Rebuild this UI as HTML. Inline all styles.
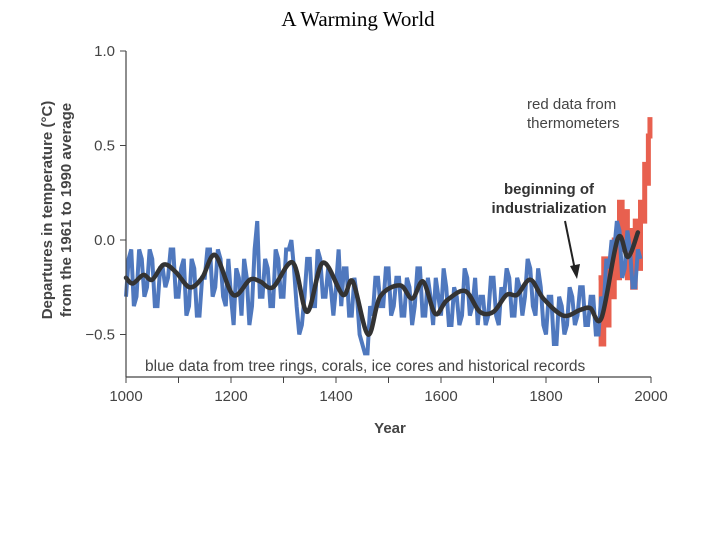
<!DOCTYPE html>
<html><head><meta charset="utf-8"><style>
body{margin:0;background:#fff;}
svg text{font-family:"Liberation Sans",sans-serif;}
</style></head><body>
<svg id="chart" width="720" height="540" viewBox="0 0 720 540" xmlns="http://www.w3.org/2000/svg">
<text x="358" y="26" text-anchor="middle" style="font-family:'Liberation Serif',serif;font-size:21px" fill="#000">A Warming World</text>
<g id="marks"></g>
<g id="axes"></g>
<text x="527" y="109" font-size="15" fill="#444">red data from</text>
<text x="527" y="128" font-size="15" fill="#444">thermometers</text>
<text x="549" y="194" font-size="15" font-weight="bold" fill="#333" text-anchor="middle">beginning of</text>
<text x="549" y="213" font-size="15" font-weight="bold" fill="#333" text-anchor="middle">industrialization</text>
<line x1="565" y1="221" x2="575" y2="270" stroke="#222" stroke-width="2"/>
<polygon points="570,266 580,264 577,279" fill="#222"/>
<text x="145" y="371" font-size="15.5" fill="#444">blue data from tree rings, corals, ice cores and historical records</text>
<text transform="translate(52,210) rotate(-90)" text-anchor="middle" font-size="15" font-weight="bold" fill="#444">Departures in temperature (°C)</text>
<text transform="translate(71,210) rotate(-90)" text-anchor="middle" font-size="15" font-weight="bold" fill="#444">from the 1961 to 1990 average</text>
<text x="390" y="433" text-anchor="middle" font-size="15" font-weight="bold" fill="#444">Year</text>
</svg>
<script>
const blueStart = 1000, blueStep = 5;
const blueValues = [
-0.3,-0.1,-0.05,-0.35,-0.3,-0.05,-0.1,-0.3,-0.25,-0.05,-0.1,-0.35,-0.35,-0.15,-0.15,-0.25,-0.2,-0.05,-0.05,-0.3,
-0.3,-0.15,-0.1,-0.4,-0.35,-0.1,-0.15,-0.4,-0.4,-0.2,-0.2,-0.05,-0.05,-0.3,-0.25,-0.05,-0.1,-0.3,-0.35,-0.1,
-0.3,-0.45,-0.15,-0.2,-0.4,-0.1,-0.2,-0.45,-0.35,-0.05,0.1,-0.3,-0.3,-0.1,-0.15,-0.35,-0.35,-0.05,-0.1,-0.3,
-0.3,-0.05,-0.05,0.0,-0.15,-0.35,-0.5,-0.45,-0.3,-0.1,-0.1,-0.35,-0.35,-0.05,-0.1,-0.3,-0.3,-0.15,-0.25,-0.4,
-0.25,-0.05,-0.35,-0.15,-0.15,-0.4,-0.4,-0.2,-0.3,-0.5,-0.55,-0.6,-0.6,-0.35,-0.4,-0.2,-0.2,-0.35,-0.35,-0.15,
-0.15,-0.4,-0.35,-0.2,-0.2,-0.4,-0.4,-0.2,-0.25,-0.45,-0.35,-0.15,-0.15,-0.4,-0.4,-0.2,-0.3,-0.45,-0.2,-0.3,
-0.4,-0.15,-0.25,-0.45,-0.45,-0.25,-0.3,-0.45,-0.4,-0.15,-0.2,-0.4,-0.35,-0.2,-0.45,-0.3,-0.3,-0.45,-0.4,-0.2,
-0.2,-0.4,-0.45,-0.25,-0.3,-0.15,-0.2,-0.4,-0.4,-0.2,-0.25,-0.4,-0.3,-0.1,-0.15,-0.35,-0.4,-0.15,-0.25,-0.45,
-0.5,-0.3,-0.3,-0.55,-0.55,-0.3,-0.35,-0.5,-0.45,-0.25,-0.3,-0.45,-0.4,-0.25,-0.25,-0.45,-0.45,-0.3,-0.3,-0.5,
-0.5,-0.3,-0.35,-0.1,-0.15,0.0,-0.05,0.1,0.05,-0.2,-0.15,0.05,-0.05,-0.25,-0.25,-0.05,-0.1];
const redYears = [1900,1905,1910,1915,1920,1925,1930,1935,1940,1945,1950,1955,1960,1965,1970,1975,1980,1985,1988,1992,1995,1998];
const redValues = [-0.2,-0.55,-0.1,-0.45,-0.15,-0.3,0.0,-0.2,0.2,-0.05,0.15,-0.2,0.05,-0.25,0.1,-0.15,0.2,0.1,0.4,0.3,0.55,0.65];
const smoothYears = [1000,1013,1033,1050,1072,1095,1121,1145,1170,1204,1236,1256,1280,1318,1345,1375,1413,1432,1461,1484,1522,1545,1566,1589,1611,1646,1674,1700,1725,1745,1770,1795,1833,1865,1884,1906,1937,1956,1975];
const smoothValues = [-0.2,-0.23,-0.185,-0.21,-0.13,-0.17,-0.25,-0.2,-0.08,-0.29,-0.21,-0.22,-0.25,-0.12,-0.38,-0.12,-0.29,-0.22,-0.5,-0.3,-0.24,-0.31,-0.22,-0.39,-0.32,-0.27,-0.38,-0.38,-0.29,-0.29,-0.21,-0.31,-0.4,-0.37,-0.36,-0.41,0.01,-0.09,0.04];
const xTicks = [1000,1200,1400,1600,1800,2000];
const yTicks = [1.0,0.5,0.0,-0.5];

const NS='http://www.w3.org/2000/svg';
const x = yr => 126 + (yr-1000)*0.525;
const y = v => 240 - v*189;
const marks=document.getElementById('marks'), axes=document.getElementById('axes');
function mk(tag,parent){const e=document.createElementNS(NS,tag);parent.appendChild(e);return e;}

// red series (stepped)
let rp=[];
redYears.forEach((yr,i)=>{const nx=i<redYears.length-1?redYears[i+1]:yr;rp.push(x(yr)+','+y(redValues[i]));rp.push(x(nx)+','+y(redValues[i]));});
const red=mk('polyline',marks);


red.setAttribute('points',rp.join(' '));red.setAttribute('fill','none');red.setAttribute('stroke','#e8604f');red.setAttribute('stroke-width','5');

// blue series
let bp=[];
blueValues.forEach((v,i)=>{const yr=blueStart+i*blueStep;bp.push(x(yr)+','+y(v));});
const blue=mk('polyline',marks);


blue.setAttribute('points',bp.join(' '));blue.setAttribute('fill','none');blue.setAttribute('stroke','#4f78be');blue.setAttribute('stroke-width','4');blue.setAttribute('stroke-linejoin','miter');

// smooth line (catmull-rom)
const pts=smoothYears.map((yr,i)=>[x(yr),y(smoothValues[i])]);
let d='M'+pts[0][0]+','+pts[0][1];
for(let i=0;i<pts.length-1;i++){const p0=pts[i-1]||pts[i],p1=pts[i],p2=pts[i+1],p3=pts[i+2]||p2;
d+=' C'+(p1[0]+(p2[0]-p0[0])/6)+','+(p1[1]+(p2[1]-p0[1])/6)+' '+(p2[0]-(p3[0]-p1[0])/6)+','+(p2[1]-(p3[1]-p1[1])/6)+' '+p2[0]+','+p2[1];}
const sm=mk('path',marks);


sm.setAttribute('d',d);sm.setAttribute('fill','none');sm.setAttribute('stroke','#333');sm.setAttribute('stroke-width','4.5');sm.setAttribute('stroke-linecap','round');

// axes
const ya=mk('line',axes);


ya.setAttribute('x1',126);ya.setAttribute('x2',126);ya.setAttribute('y1',y(1.0));ya.setAttribute('y2',377);ya.setAttribute('stroke','#444');ya.setAttribute('stroke-width','1.2');
const xa=mk('line',axes);


xa.setAttribute('x1',126);xa.setAttribute('x2',x(2000));xa.setAttribute('y1',377);xa.setAttribute('y2',377);xa.setAttribute('stroke','#444');xa.setAttribute('stroke-width','1.2');
yTicks.forEach(v=>{
 const t=mk('line',axes);
 
 
 t.setAttribute('x1',120);t.setAttribute('x2',126);t.setAttribute('y1',y(v));t.setAttribute('y2',y(v));t.setAttribute('stroke','#444');
 const l=mk('text',axes);
 
 
 l.setAttribute('x',115);l.setAttribute('y',y(v)+5);l.setAttribute('text-anchor','end');l.setAttribute('font-size','15');l.setAttribute('fill','#444');
 l.textContent=(v<0?'\u2212':'')+Math.abs(v).toFixed(1);
});
for(let yr=1000;yr<=2000;yr+=100){
 const t=mk('line',axes);
 
 
 t.setAttribute('x1',x(yr));t.setAttribute('x2',x(yr));t.setAttribute('y1',377);t.setAttribute('y2',383);t.setAttribute('stroke','#444');
}
xTicks.forEach(yr=>{
 const l=mk('text',axes);
 
 
 l.setAttribute('x',x(yr));l.setAttribute('y',401);l.setAttribute('text-anchor','middle');l.setAttribute('font-size','15');l.setAttribute('fill','#444');
 l.textContent=yr;
});
</script>
</body></html>
